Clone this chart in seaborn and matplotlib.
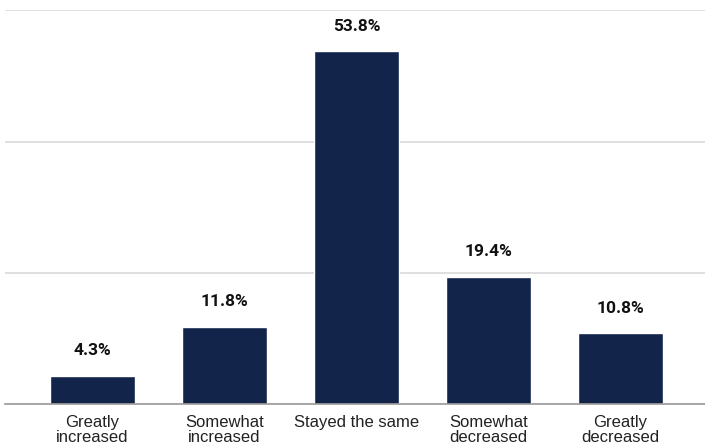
import matplotlib
matplotlib.use("Agg")
import matplotlib.pyplot as plt
import seaborn as sns
import pandas as pd

categories = ["Greatly\nincreased", "Somewhat\nincreased", "Stayed the same",
              "Somewhat\ndecreased", "Greatly\ndecreased"]
shares = [4.3, 11.8, 53.8, 19.4, 10.8]
value_labels = ["4.3%", "11.8%", "53.8%", "19.4%", "10.8%"]

df = pd.DataFrame({"category": categories, "share": shares})

sns.set_theme(style="white")
fig = plt.figure(figsize=(7.05, 4.45), dpi=100)
ax = fig.add_axes([5 / 705, 1 - 404 / 445, 700 / 705, (404 - 10.4) / 445])

sns.barplot(data=df, x="category", y="share", color="#13244a", width=0.645,
            saturation=1, ax=ax, zorder=3)

ax.set_ylim(0, 60)
ax.set_xlim(-0.663, 4.64)
ax.set_yticks([0, 20, 40, 60])
ax.yaxis.grid(True, color="#d9d9d9", linewidth=1.2, zorder=0)
ax.set_yticklabels([])
ax.tick_params(axis="y", length=0)
ax.tick_params(axis="x", length=0, pad=8)
for lbl in ax.get_xticklabels():
    lbl.set_fontfamily("Liberation Sans")
    lbl.set_fontsize(12)
    lbl.set_color("#222222")
    lbl.set_linespacing(1.02)
ax.set_xlabel("")
ax.set_ylabel("")
for side in ["top", "right", "left"]:
    ax.spines[side].set_visible(False)
ax.spines["bottom"].set_color("#9a9a9a")
ax.spines["bottom"].set_linewidth(1.2)
ax.spines["bottom"].set_zorder(4)

for i, (v, t) in enumerate(zip(shares, value_labels)):
    ax.annotate(t, (i, v), xytext=(0, 18), textcoords="offset points",
                ha="center", va="center", fontsize=12.5, fontweight="bold",
                fontfamily="Roboto", color="#111111")

fig.savefig("out.png", dpi=100)
